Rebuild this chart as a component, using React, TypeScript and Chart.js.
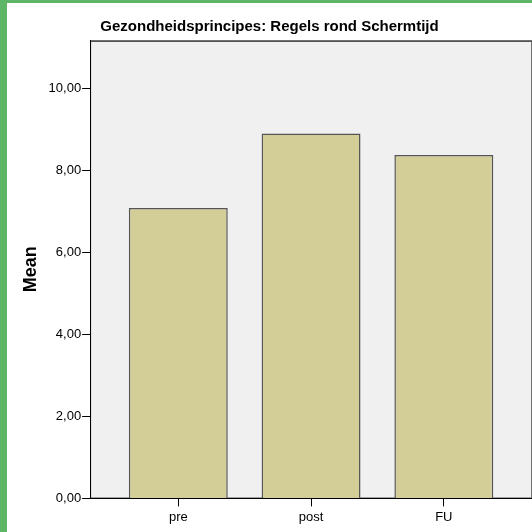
import React, { useEffect, useRef } from "react";
import { Chart, registerables } from "chart.js";

Chart.register(...registerables);

const categories = ["pre", "post", "FU"];
const means = [7.09, 8.91, 8.38];
const yTickValues = [0, 2, 4, 6, 8, 10];
const titleText = "Gezondheidsprincipes: Regels rond Schermtijd";
const yAxisTitle = "Mean";

const FONT = '"Liberation Sans", Arial, sans-serif';

const plotFrame = {
  id: "plotFrame",
  beforeDraw(chart: any) {
    const { ctx, chartArea } = chart;
    const { left, top, right, bottom } = chartArea;
    ctx.save();
    ctx.fillStyle = "#f0f0f0";
    ctx.fillRect(left, top, right - left, bottom - top);
    ctx.strokeStyle = "#707070";
    ctx.lineWidth = 1;
    ctx.strokeRect(left + 0.5, top + 0.5, right - left - 1, bottom - top - 1);
    ctx.strokeStyle = "#555555";
    ctx.beginPath();
    ctx.moveTo(left, top + 1.5);
    ctx.lineTo(right, top + 1.5);
    ctx.stroke();
    ctx.restore();
  },
};

export default function App() {
  const ref = useRef<HTMLCanvasElement | null>(null);

  useEffect(() => {
    if (!ref.current) return;
    const chart = new Chart(ref.current, {
      type: "bar",
      data: {
        datasets: [
          {
            data: means.map((v, i) => ({ x: i, y: v })),
            backgroundColor: "#d3ce98",
            borderColor: "#555555",
            borderWidth: 1.5,
            categoryPercentage: 1,
            barPercentage: 0.745,
          },
        ],
      },
      options: {
        animation: false,
        responsive: false,
        maintainAspectRatio: false,
        layout: { padding: { left: 0, right: 0, top: 0, bottom: 4 } },
        plugins: {
          legend: { display: false },
          tooltip: { enabled: false },
          title: {
            display: true,
            text: titleText,
            color: "#000000",
            font: { family: FONT, size: 15, weight: "bold" },
            padding: { top: 15, bottom: 4 },
          },
        },
        scales: {
          x: {
            type: "linear",
            min: -0.664,
            max: 2.664,
            offset: false,
            afterBuildTicks: (scale: any) => {
              scale.ticks = categories.map((_, i) => ({ value: i }));
            },
            ticks: {
              color: "#000000",
              font: { family: FONT, size: 13 },
              padding: 3,
              callback: (v: any) => categories[Math.round(Number(v))] ?? "",
            },
            grid: {
              offset: false,
              drawOnChartArea: false,
              drawTicks: true,
              tickLength: 8,
              color: "#000000",
            },
            border: { display: true, color: "#000000", width: 1 },
          },
          y: {
            min: 0,
            max: 11.19,
            afterBuildTicks: (scale: any) => {
              scale.ticks = yTickValues.map((v) => ({ value: v }));
            },
            ticks: {
              color: "#000000",
              font: { family: FONT, size: 13 },
              padding: 1,
              callback: (v: any) => Number(v).toFixed(2).replace(".", ","),
            },
            grid: {
              drawOnChartArea: false,
              drawTicks: true,
              tickLength: 8,
              color: "#000000",
            },
            border: { display: true, color: "#000000", width: 1 },
            title: {
              display: true,
              text: yAxisTitle,
              color: "#000000",
              font: { family: FONT, size: 18, weight: "bold" },
              padding: { top: 13, bottom: 6 },
            },
          },
        },
      },
      plugins: [plotFrame],
    } as any);
    return () => chart.destroy();
  }, []);

  return (
    <div
      style={{
        position: "fixed",
        left: 0,
        top: 0,
        width: 532,
        height: 532,
        background: "#5db665",
      }}
    >
      <div
        style={{
          position: "absolute",
          left: 7,
          top: 3,
          width: 525,
          height: 529,
          background: "#ffffff",
        }}
      >
        <canvas ref={ref} width={525} height={529} style={{ display: "block" }} />
      </div>
    </div>
  );
}
